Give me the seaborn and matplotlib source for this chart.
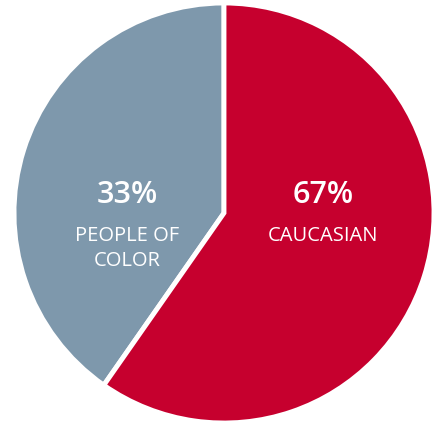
import matplotlib.pyplot as plt
import seaborn as sns

# データ
group_lines = [["PEOPLE OF", "COLOR"], ["CAUCASIAN"]]
pct_labels = ["33%", "67%"]
# 図の扇形の大きさ
wedge_shares = [40.3, 59.7]
colors = ["#7E98AC", "#C6002E"]

sns.set_theme(style="white")
plt.rcParams["font.family"] = ["Open Sans", "DejaVu Sans"]

W, H = 435, 421
fig = plt.figure(figsize=(W / 100, H / 100), dpi=100)
R = 210
cx, cy = 224, 213
ax = fig.add_axes([(cx - R) / W, (H - cy - R) / H, 2 * R / W, 2 * R / H])

ax.pie(
    wedge_shares,
    colors=colors,
    startangle=90,
    counterclock=True,
    radius=1,
    wedgeprops=dict(edgecolor="white", linewidth=3.5),
)
ax.set_xlim(-1, 1)
ax.set_ylim(-1, 1)
ax.set_aspect("equal")
ax.axis("off")

# ラベル
pos_x = [-0.462, 0.471]
line_y = [-0.11, -0.229]
for x, pct, lines in zip(pos_x, pct_labels, group_lines):
    ax.text(x, 0.086, pct, color="white", fontsize=22, fontweight="semibold",
            ha="center", va="center")
    for y, line in zip(line_y, lines):
        ax.text(x, y, line, color="white", fontsize=14.5,
                ha="center", va="center")

fig.savefig("out.png", dpi=100)
